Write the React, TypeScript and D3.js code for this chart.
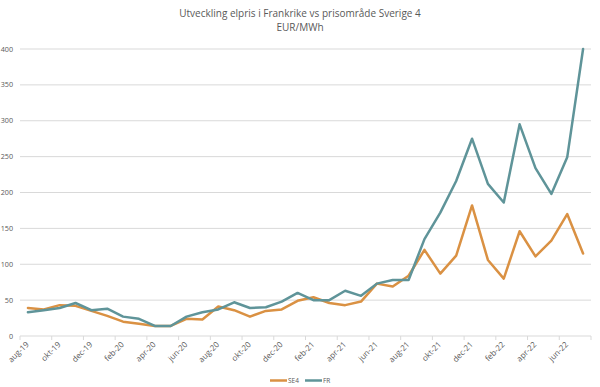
import React from "react";
import * as d3 from "d3";

const months = [
  "aug-19","sep-19","okt-19","nov-19","dec-19","jan-20","feb-20","mar-20","apr-20","maj-20","jun-20","jul-20",
  "aug-20","sep-20","okt-20","nov-20","dec-20","jan-21","feb-21","mar-21","apr-21","maj-21","jun-21","jul-21",
  "aug-21","sep-21","okt-21","nov-21","dec-21","jan-22","feb-22","mar-22","apr-22","maj-22","jun-22","jul-22",
];
const se4 = [
  39, 37, 43, 42, 35, 28, 20, 17, 14, 14, 24, 23,
  41, 36, 27, 35, 37, 49, 54, 46, 43, 48, 73, 69,
  84, 120, 87, 112, 182, 106, 80, 146, 111, 133, 170, 115,
];
const fr = [
  33, 36, 39, 46, 36, 38, 27, 24, 14, 14, 27, 33,
  37, 47, 39, 40, 48, 60, 50, 50, 63, 56, 73, 78,
  78, 135, 172, 216, 275, 212, 186, 295, 234, 198, 249, 400,
];
const yTicks = [0, 50, 100, 150, 200, 250, 300, 350, 400];
const seriesNames = ["SE4", "FR"];
const colors = ["#DA9143", "#5F9499"];

const W = 600, H = 387;
const left = 20, right = 591, top = 49, bottom = 336;
const font = "'Open Sans', 'Noto Sans', sans-serif";

export default function App() {
  const x = d3.scaleBand<string>().domain(months).range([left, right]).padding(0);
  const y = d3.scaleLinear().domain([0, 400]).range([bottom, top]);
  const cx = (i: number) => (x(months[i]) as number) + x.bandwidth() / 2;
  const line = d3.line<number>().x((_, i) => cx(i)).y((d) => y(d));
  const series = [se4, fr];
  const tickXs = months.map((m, i) => i).filter((i) => i % 2 === 0).map((i) => x(months[i]) as number);
  tickXs.push(right);

  return (
    <div style={{ position: "absolute", left: 0, top: 0 }}>
      <svg width={W} height={H} style={{ display: "block", background: "#fff" }}>
        <text x={300} y={17} textAnchor="middle" fontFamily={font} fontSize={10} fill="#595959">
          Utveckling elpris i Frankrike vs prisområde Sverige 4
        </text>
        <text x={300} y={31} textAnchor="middle" fontFamily={font} fontSize={10} fill="#595959">
          EUR/MWh
        </text>
        {yTicks.map((t) => (
          <g key={t}>
            {t > 0 && <line x1={left} x2={right} y1={y(t)} y2={y(t)} stroke="#d9d9d9" strokeWidth={1} />}
            <text x={13} y={y(t) + 2.5} textAnchor="end" fontFamily={font} fontSize={7.2} fill="#595959">
              {t}
            </text>
          </g>
        ))}
        <line x1={left} x2={right} y1={bottom} y2={bottom} stroke="#d9d9d9" strokeWidth={1} />
        {tickXs.map((tx, i) => (
          <line key={i} x1={tx} x2={tx} y1={bottom} y2={bottom + 4} stroke="#d9d9d9" strokeWidth={1} />
        ))}
        {months.map((m, i) =>
          i % 2 === 0 ? (
            <text
              key={m}
              transform={`translate(${cx(i) + 1.5},${bottom + 9}) rotate(-45)`}
              textAnchor="end"
              fontFamily={font}
              fontSize={8}
              fill="#595959"
            >
              {m}
            </text>
          ) : null
        )}
        {series.map((s, k) => (
          <path key={k} d={line(s) as string} fill="none" stroke={colors[k]} strokeWidth={2.5} strokeLinejoin="round" strokeLinecap="round" />
        ))}
        {seriesNames.map((n, k) => {
          const lx = k === 0 ? 270 : 305;
          return (
            <g key={n}>
              <line x1={lx} x2={lx + 17} y1={380.5} y2={380.5} stroke={colors[k]} strokeWidth={2.5} />
              <text x={lx + 18} y={383} fontFamily={font} fontSize={6.5} fill="#595959">
                {n}
              </text>
            </g>
          );
        })}
      </svg>
    </div>
  );
}
